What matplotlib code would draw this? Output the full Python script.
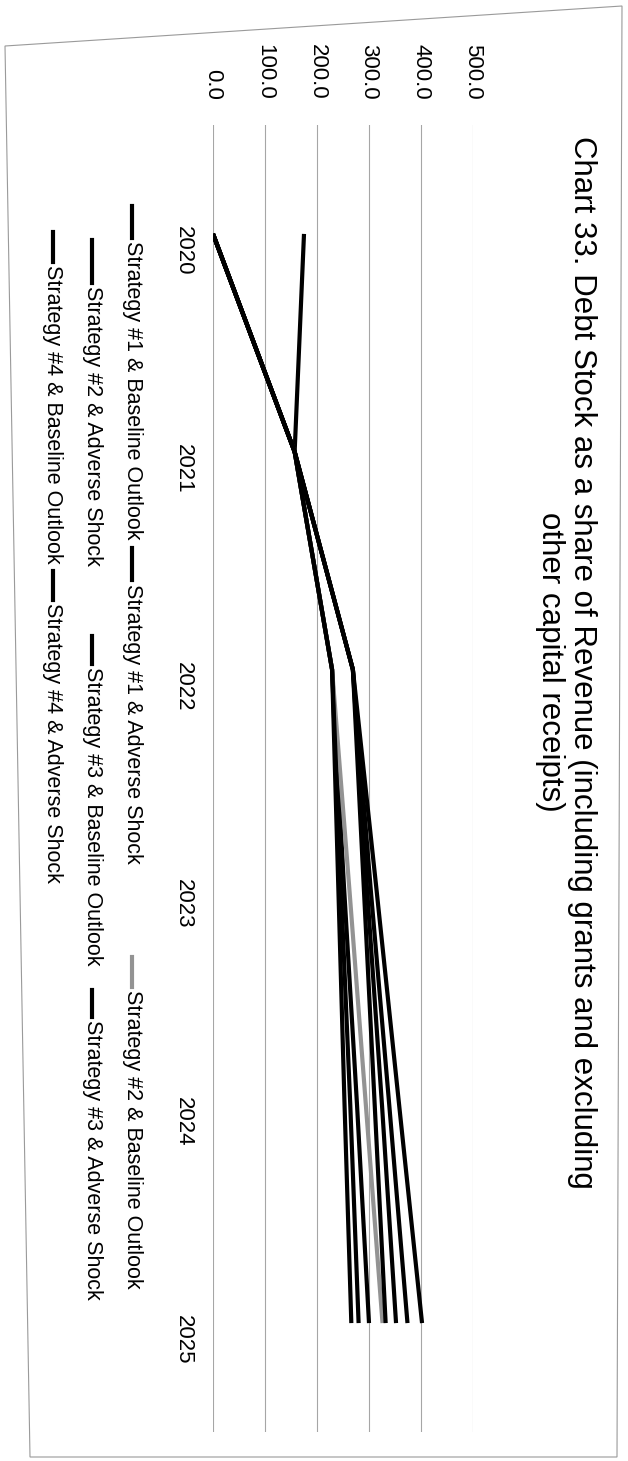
import numpy as np
import matplotlib.pyplot as plt
from matplotlib.lines import Line2D
from matplotlib.patches import Polygon

plt.rcParams['font.family'] = ['Liberation Sans', 'DejaVu Sans']

years = [2020, 2021, 2022, 2023, 2024, 2025]
value_ticks = [0, 100, 200, 300, 400, 500]
value_labels = ['0.0', '100.0', '200.0', '300.0', '400.0', '500.0']

names = ['Strategy #1 & Baseline Outlook', 'Strategy #1 & Adverse Shock',
         'Strategy #2 & Baseline Outlook', 'Strategy #2 & Adverse Shock',
         'Strategy #3 & Baseline Outlook', 'Strategy #3 & Adverse Shock',
         'Strategy #4 & Baseline Outlook', 'Strategy #4 & Adverse Shock']
s1_base = [175, 157, 229, 252, 277, 300]
s1_adv = [0, 157, 269, 303, 339, 374]
s2_base = [0, 157, 229, 262, 294, 326]
s2_adv = [0, 157, 269, 314, 358, 402]
s3_base = [0, 157, 229, 246, 264, 280]
s3_adv = [0, 157, 269, 296, 325, 352]
s4_base = [0, 157, 229, 241, 253, 266]
s4_adv = [0, 157, 269, 290, 311, 332]
series = [s1_base, s1_adv, s2_base, s2_adv, s3_base, s3_adv, s4_base, s4_adv]
colors = ['black', 'black', '#939393', 'black', 'black', 'black', 'black', 'black']

title = 'Chart 33. Debt Stock as a share of Revenue (including grants and excluding\nother capital receipts)'

W, H = 628, 1461
def fx(x): return x / W
def fy(y): return 1 - y / H

fig = plt.figure(figsize=(W / 100, H / 100), dpi=100)
fig.patches.append(Polygon([(fx(5), fy(46)), (fx(622), fy(6)), (fx(617), fy(1457)), (fx(30), fy(1457))],
                           closed=True, fill=False, edgecolor='#9a9a9a', lw=0.8, transform=fig.transFigure))

# chart is rotated 90 deg clockwise: values run left->right, years top->bottom
ax = fig.add_axes([fx(213), fy(1432), (473 - 213) / W, (1432 - 125) / H])
for vals, c in zip(series, colors):
    ax.plot(vals, years, color=c, lw=3.0, solid_capstyle='butt')
ax.set_xlim(0, 500)
ax.set_ylim(2025.5, 2019.5)
ax.set_xticks(value_ticks)
ax.set_xticklabels(value_labels)
ax.set_yticks(years)
ax.set_yticklabels([str(y) for y in years])
ax.xaxis.tick_top()
ax.tick_params(axis='x', length=0, pad=18, labelsize=16, labelrotation=-90)
ax.tick_params(axis='y', length=0, pad=14, labelsize=16, labelrotation=-90)
ax.grid(axis='x', color='#a6a6a6', lw=0.8)
ax.set_axisbelow(True)
for s in ax.spines.values():
    s.set_visible(False)

fig.text(fx(566), fy(662), title, rotation=-90, rotation_mode='anchor', ha='center', va='center',
         multialignment='center', fontsize=22.5, linespacing=1.05)

# legend drawn by hand so it can be rotated with the chart
# (row x, handle start, handle end, text start)
leg_pos = [(132, 206, 238, 241), (132, 548, 580, 584), (132, 957, 987, 990),
           (92, 240, 283, 286), (92, 636, 664, 667), (92, 990, 1017, 1020),
           (53, 232, 262, 265), (53, 571, 600, 603)]
for name, c, (x, h0, h1, t0) in zip(names, colors, leg_pos):
    fig.add_artist(Line2D([fx(x), fx(x)], [fy(h0), fy(h1)], transform=fig.transFigure, color=c, lw=3.0))
    fig.text(fx(x), fy(t0), name, rotation=-90, rotation_mode='anchor', ha='left', va='center', fontsize=15.5)

fig.savefig('out.png', dpi=100)
